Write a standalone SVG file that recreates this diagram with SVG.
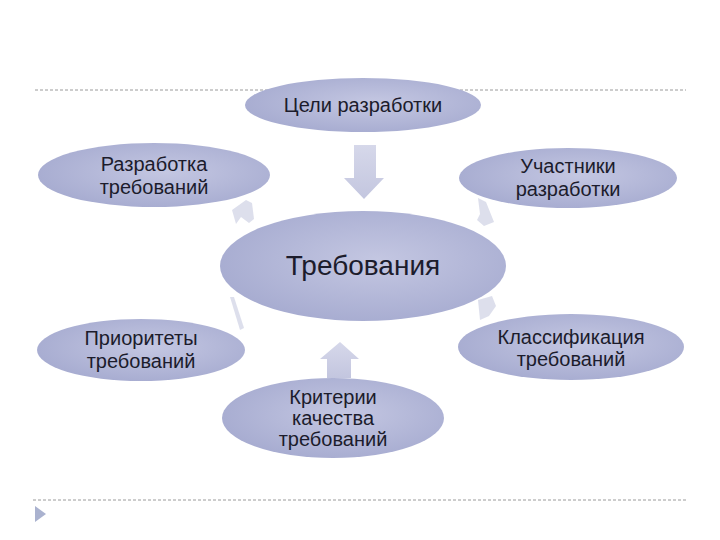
<svg xmlns="http://www.w3.org/2000/svg" width="720" height="540" viewBox="0 0 720 540">
<defs>
<radialGradient id="g" cx="0.55" cy="0.45" r="0.6">
<stop offset="0" stop-color="#c4c7e2"/>
<stop offset="1" stop-color="#a6abd0"/>
</radialGradient>
<linearGradient id="ag" x1="0" y1="0" x2="0" y2="1">
<stop offset="0" stop-color="#d6d8ea"/>
<stop offset="1" stop-color="#c3c6df"/>
</linearGradient>
<style>
.n{fill:url(#g);}
.t{font-family:"Liberation Sans",Arial,sans-serif;font-size:20px;fill:#1c1c2c;text-anchor:middle;}
.c{font-size:28px;}
.a{fill:url(#ag);stroke:none;}
.s{fill:#d9dbea;opacity:0.9;}
.d{stroke:#9a9a9a;stroke-width:1;stroke-dasharray:3,2;fill:none;}
</style>
</defs>
<rect width="720" height="540" fill="#ffffff"/>
<line class="d" x1="35" y1="90" x2="686" y2="90"/>
<line class="d" x1="33" y1="500" x2="686" y2="500"/>
<polygon points="35,506 46,514 35,522" fill="#aab2cf"/>
<g id="connectors">
<polygon class="a" points="354,145 376,145 376,178 384,178 364,199 344,178 354,178"/>
<polygon class="a" points="327,378 351,378 351,359 359,359 340,342 320,359 327,359"/>
<polygon class="s" points="246,200 252,203 254,219 249,223 241,217 236,224 232,210"/>
<polygon class="s" points="478,198 486,202 494,222 484,226 477,220 480,214"/>
<polygon class="s" points="230,297 234,297 244,328 240,330"/>
<polygon class="s" points="478,300 492,296 496,306 489,316 480,320"/>
</g>
<g id="n-center">
<ellipse class="n" cx="363" cy="266" rx="143" ry="55"/>
<text class="t c" x="363" y="275">Требования</text>
</g>
<g id="n-goals">
<ellipse class="n" cx="363" cy="105" rx="118" ry="27"/>
<text class="t" x="363" y="112">Цели разработки</text>
</g>
<g id="n-dev">
<ellipse class="n" cx="154" cy="175" rx="116" ry="32"/>
<text class="t" x="154" y="171">Разработка</text>
<text class="t" x="154" y="194">требований</text>
</g>
<g id="n-part">
<ellipse class="n" cx="568" cy="178" rx="109" ry="30"/>
<text class="t" x="568" y="173">Участники</text>
<text class="t" x="568" y="196">разработки</text>
</g>
<g id="n-prio">
<ellipse class="n" cx="141" cy="350" rx="104" ry="31"/>
<text class="t" x="141" y="345">Приоритеты</text>
<text class="t" x="141" y="368">требований</text>
</g>
<g id="n-class">
<ellipse class="n" cx="571" cy="347" rx="113" ry="33"/>
<text class="t" x="571" y="344">Классификация</text>
<text class="t" x="571" y="366">требований</text>
</g>
<g id="n-crit">
<ellipse class="n" cx="333" cy="418" rx="111" ry="40"/>
<text class="t" x="333" y="404">Критерии</text>
<text class="t" x="333" y="425">качества</text>
<text class="t" x="333" y="446">требований</text>
</g>
</svg>
